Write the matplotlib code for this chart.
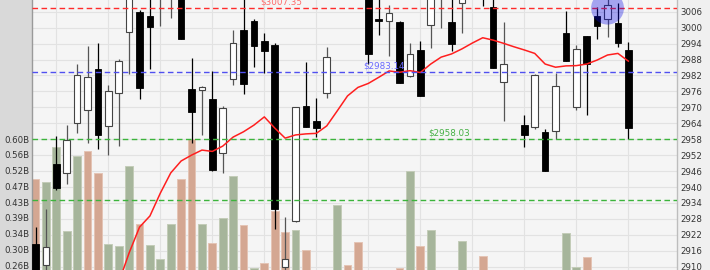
import numpy as np
import matplotlib
matplotlib.use("Agg")
import matplotlib.pyplot as plt
from matplotlib.patches import Rectangle

nan = np.nan

# OHLC per session (values above/below the visible window are estimates)
opens = [2918.4, 2910.6, 2948.5, 2945.2, 2964.0, 2969.0, 2984.3, 2963.1, 2975.3, 2998.2,
         3005.8, 3004.5, 3013.0, 3014.0, 3018.0, 2976.9, 2976.5, 2973.2, 2952.7, 2980.5,
         2999.1, 3002.4, 2995.0, 2993.5, 2909.7, 2927.3, 2970.5, 2965.0, 2975.5, 3014.0,
         3024.0, 3020.0, 3015.0, 3003.3, 3002.4, 3002.2, 2981.9, 2991.6, 3001.0, 3012.0,
         3002.2, 3009.2, 3014.0, 3018.0, 3007.7, 2979.4, nan, 2963.2, 2962.7, 2960.6,
         2961.1, 2998.1, 2970.2, 2996.9, 3004.5, 3003.1, 3001.9, 2991.6]
highs = [2925.0, 2931.6, 2959.2, 2963.3, 2986.2, 2993.1, 2994.3, 2978.4, 2988.1, 3016.0,
         3006.6, 3013.0, 3020.0, 3022.0, 3021.0, 2988.7, 2978.0, 2983.7, 2970.5, 2999.1,
         3012.0, 3003.3, 2998.1, 2994.1, 2928.6, 2970.2, 2987.2, 2973.6, 2992.8, 3026.0,
         3027.0, 3023.0, 3018.0, 3012.0, 3008.5, 3002.5, 2994.3, 2995.1, 3016.0, 3018.0,
         3013.0, 3015.0, 3024.0, 3022.0, 3014.0, 3002.2, nan, 2967.1, 2982.5, 2961.7,
         2982.8, 3006.4, 2993.5, 2996.9, 3007.9, 3012.0, 3009.2, 2994.7]
lows = [2900.0, 2905.0, 2938.9, 2941.0, 2960.2, 2956.7, 2954.3, 2952.0, 2955.6, 2982.5,
        2973.1, 2984.4, 3000.6, 3003.5, 2995.6, 2956.4, 2959.6, 2946.2, 2945.2, 2978.4,
        2974.9, 2985.1, 2983.0, 2924.1, 2904.0, 2926.9, 2962.7, 2958.7, 2973.4, 3012.0,
        3016.0, 3012.0, 2986.3, 2997.2, 2989.4, 2979.0, 2981.5, 2974.4, 2992.2, 2999.8,
        2991.2, 2997.9, 3012.0, 3008.1, 2984.7, 2965.0, nan, 2955.2, 2961.7, 2946.0,
        2958.0, 2987.4, 2969.0, 2967.1, 2995.6, 2996.4, 2992.6, 2958.0]
closes = [2906.0, 2917.5, 2939.5, 2957.7, 2982.2, 2981.3, 2959.6, 2976.3, 2987.4, 3012.0,
          2977.2, 3000.4, 3016.0, 3019.0, 2995.6, 2968.1, 2977.8, 2946.4, 2969.6, 2994.1,
          2978.8, 2993.2, 2991.3, 2931.6, 2912.8, 2970.2, 2962.7, 2962.1, 2988.8, 3022.0,
          3019.0, 3016.0, 2990.1, 3002.6, 3005.6, 2979.0, 2990.1, 2974.4, 3013.0, 3015.0,
          2993.8, 3012.0, 3020.0, 3013.0, 2984.7, 2986.2, nan, 2959.6, 2982.2, 2946.0,
          2978.0, 2987.4, 2991.8, 2986.2, 3000.6, 3008.5, 2994.1, 2962.1]
# volume in billions
volumes = [0.492, 0.484, 0.579, 0.352, 0.553, 0.568, 0.507, 0.317, 0.311, 0.527,
           0.371, 0.314, 0.275, 0.371, 0.492, 0.600, 0.370, 0.319, 0.388, 0.500,
           0.368, 0.252, 0.266, 0.406, 0.350, 0.355, 0.300, 0.220, 0.210, 0.422,
           0.260, 0.323, 0.230, 0.200, 0.220, 0.251, 0.513, 0.312, 0.355, 0.210,
           0.230, 0.324, 0.220, 0.285, 0.230, 0.200, nan, 0.220, 0.210, 0.230,
           0.220, 0.347, 0.255, 0.283, 0.210, 0.200, 0.220, 0.230]
# moving average line as drawn
ma_line = [nan, nan, nan, nan, nan, nan, nan, nan, 2904.0, 2915.2,
           2924.9, 2929.1, 2937.7, 2945.3, 2949.8, 2952.0, 2953.9, 2953.4, 2955.4, 2958.8,
           2960.8, 2963.3, 2966.4, 2962.2, 2958.4, 2959.6, 2960.0, 2960.2, 2963.0, 2968.6,
           2974.3, 2977.5, 2979.0, 2981.3, 2983.7, 2983.2, 2983.8, 2983.1, 2986.3, 2988.9,
           2990.1, 2992.0, 2994.2, 2996.2, 2995.3, 2994.1, 2992.8, 2991.6, 2990.3, 2986.3,
           2985.1, 2985.6, 2985.7, 2986.3, 2987.8, 2989.7, 2990.3, 2987.4]

levels = [3007.35, 2983.14, 2958.03, 2935.2]
level_colors = ["#ff2b2b", "#5050f0", "#3cb43c", "#3cb43c"]
level_labels = ["$3007.35", "$2983.14", "$2958.03", None]
label_colors = ["#ff6a6a", "#6a6aff", "#45b045", None]
label_x = [21.6, 31.5, 37.8, None]

highlight_idx = 55
highlight_price = 3007.35

price_ticks = list(range(2910, 3007, 6))
vol_ticks = [0.26, 0.3025, 0.345, 0.3875, 0.43, 0.4725, 0.515, 0.5575, 0.60]
vol_labels = ["0.26B", "0.30B", "0.34B", "0.39B", "0.43B", "0.47B", "0.52B", "0.56B", "0.60B"]

o = np.array(opens); h = np.array(highs); l = np.array(lows); c = np.array(closes)
v = np.array(volumes)
idx = np.arange(len(o))
ok = ~np.isnan(c)

W, H = 710, 270
fig = plt.figure(figsize=(W / 100, H / 100), dpi=100, facecolor="#f0f0f0")
fig.patches.append(Rectangle((0, 0), 32 / W, 1, transform=fig.transFigure,
                             facecolor="#d9d9d9", edgecolor="none", zorder=-1))
rect = [32 / W, 0, (677 - 32) / W, 1]
xlim = (-0.34, 61.68)
plim = (2908.75, 3010.41)
vlim = (0.2466, 0.975)

# background + grid
ax_bg = fig.add_axes(rect)
ax_bg.set_facecolor("#f5f5f5")
ax_bg.set_xlim(*xlim)
ax_bg.set_ylim(*plim)
ax_bg.set_yticks(price_ticks)
ax_bg.set_xticks(idx[2::5])
ax_bg.grid(True, color="#e2e2e2", linewidth=0.8)
ax_bg.tick_params(length=0, labelleft=False, labelbottom=False)
for s in ax_bg.spines.values():
    s.set_visible(False)

# volume
ax_v = fig.add_axes(rect)
ax_v.patch.set_visible(False)
ax_v.set_xlim(*xlim)
ax_v.set_ylim(*vlim)
prev = np.concatenate([[o[0]], c[:-1]])
up = c >= prev
vok = ~np.isnan(v)
for flag, face, edge in [(True, "#a6b59b", "#c3ccb8"), (False, "#d4a792", "#e4c4b5")]:
    m = vok & (up == flag)
    ax_v.bar(idx[m], v[m] - vlim[0], bottom=vlim[0], width=0.76,
             color=face, edgecolor=edge, linewidth=0.7)
ax_v.set_yticks(vol_ticks)
ax_v.set_yticklabels(vol_labels)
ax_v.set_xticks([])
ax_v.tick_params(axis="y", length=0, pad=2, labelsize=6.2, labelcolor="#333333")
for k, s in ax_v.spines.items():
    s.set_visible(k == "left")
ax_v.spines["left"].set_color("#9a9a9a")
ax_v.spines["left"].set_linewidth(1.0)

# price
ax_p = fig.add_axes(rect)
ax_p.patch.set_visible(False)
ax_p.set_xlim(*xlim)
ax_p.set_ylim(*plim)
bull = ok & (c >= o)
bear = ok & (c < o)
ax_p.vlines(idx[bear], l[bear], h[bear], color="#000000", linewidth=0.9, zorder=2)
ax_p.vlines(idx[bull], l[bull], h[bull], color="#555555", linewidth=0.9, zorder=2)
body_lo = np.minimum(o, c)
body_h = np.abs(c - o)
ax_p.bar(idx[bear], body_h[bear], bottom=body_lo[bear], width=0.64,
         color="#000000", edgecolor="#000000", linewidth=0.6, zorder=3)
ax_p.bar(idx[bull], body_h[bull], bottom=body_lo[bull], width=0.64,
         color="#ffffff", edgecolor="#444444", linewidth=0.8, zorder=3)

ax_p.plot(idx, ma_line, color="#ff1f1f", linewidth=1.1, zorder=4)

for lev, col, lab, lcol, lx in zip(levels, level_colors, level_labels, label_colors, label_x):
    ax_p.axhline(lev, color=col, linestyle=(0, (4, 2.5)), linewidth=1.0, zorder=5)
    if lab:
        ax_p.annotate(lab, (lx, lev), xytext=(0, 1.2), textcoords="offset points",
                      ha="left", va="bottom", fontsize=6.3, color=lcol, zorder=6)

ax_p.scatter([highlight_idx], [highlight_price], s=560, color=(0.0, 0.0, 0.9),
             alpha=0.33, edgecolors="none", zorder=7)

ax_p.yaxis.tick_right()
ax_p.set_yticks(price_ticks)
ax_p.set_xticks([])
ax_p.tick_params(axis="y", length=0, pad=2.5, labelsize=6.2, labelcolor="#333333")
for k, s in ax_p.spines.items():
    s.set_visible(k == "right")
ax_p.spines["right"].set_color("#bdbdbd")
ax_p.spines["right"].set_linewidth(1.0)

fig.savefig("out.png", dpi=100, facecolor=fig.get_facecolor())
